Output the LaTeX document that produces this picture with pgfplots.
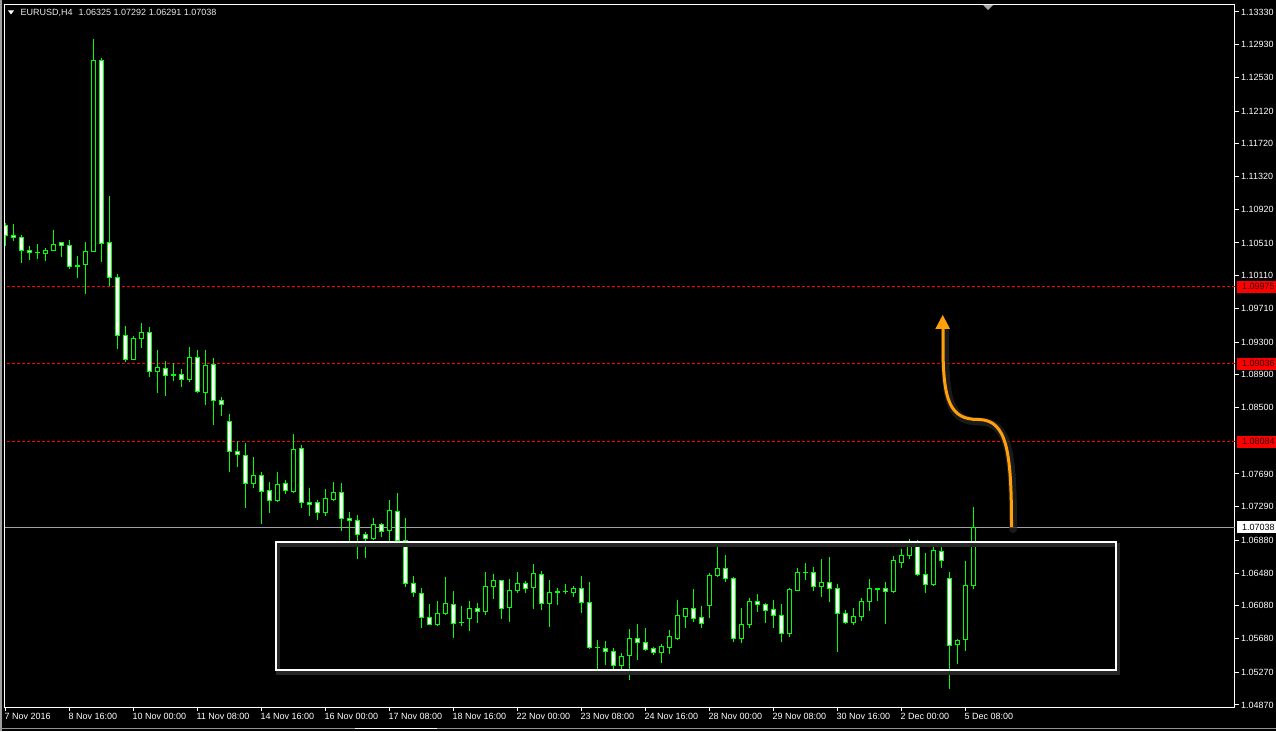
\documentclass[border=0pt]{standalone}
\usepackage{fontspec}
\setmainfont{Liberation Sans}
\usepackage{pgfplots}
\pgfplotsset{compat=1.18}
\usepackage{pgfplotstable}
\definecolor{cgreen}{RGB}{0,255,0}
\definecolor{cred}{RGB}{255,0,0}
\definecolor{corange}{RGB}{255,160,10}
\definecolor{cgrey}{RGB}{160,160,168}
\definecolor{ctext}{RGB}{235,235,235}
\definecolor{clabel}{RGB}{40,0,0}
\newcommand\mtfont{\fontsize{9}{10.5}\selectfont}

\pgfplotstableread{
i o h l c
0 1.10726 1.10752 1.10473 1.10604
1 1.10601 1.10742 1.10538 1.10575
2 1.10580 1.10608 1.10269 1.10421
3 1.10424 1.10473 1.10302 1.10391
4 1.10388 1.10498 1.10315 1.10400
5 1.10384 1.10449 1.10290 1.10424
6 1.10416 1.10669 1.10416 1.10494
7 1.10510 1.10526 1.10343 1.10477
8 1.10482 1.10547 1.10196 1.10220
9 1.10220 1.10352 1.10086 1.10238
10 1.10245 1.10522 1.09887 1.10409
11 1.10404 1.13000 1.10404 1.12740
12 1.12740 1.12768 1.10282 1.10506
13 1.10519 1.11084 1.09985 1.10086
14 1.10091 1.10128 1.09220 1.09384
15 1.09384 1.09497 1.09061 1.09090
16 1.09090 1.09375 1.09082 1.09347
17 1.09347 1.09530 1.09225 1.09420
18 1.09420 1.09481 1.08870 1.08944
19 1.08944 1.09204 1.08682 1.08992
20 1.08980 1.09070 1.08642 1.08895
21 1.08899 1.09041 1.08829 1.08892
22 1.08907 1.08972 1.08756 1.08846
23 1.08846 1.09237 1.08817 1.09115
24 1.09115 1.09204 1.08675 1.08694
25 1.08682 1.09204 1.08532 1.09017
26 1.09029 1.09102 1.08288 1.08584
27 1.08589 1.08626 1.08398 1.08536
28 1.08333 1.08422 1.07714 1.07962
29 1.07967 1.08089 1.07779 1.07925
30 1.07918 1.08065 1.07279 1.07572
31 1.07572 1.07894 1.07523 1.07674
32 1.07674 1.07711 1.07083 1.07474
33 1.07491 1.07589 1.07218 1.07369
34 1.07364 1.07711 1.07352 1.07564
35 1.07568 1.07617 1.07449 1.07486
36 1.07474 1.08178 1.07458 1.07991
37 1.08004 1.08040 1.07279 1.07340
38 1.07348 1.07519 1.07181 1.07315
39 1.07336 1.07369 1.07128 1.07218
40 1.07218 1.07507 1.07181 1.07393
41 1.07376 1.07592 1.07360 1.07466
42 1.07466 1.07580 1.06998 1.07144
43 1.07149 1.07226 1.06872 1.07125
44 1.07125 1.07189 1.06656 1.06955
45 1.06955 1.06985 1.06668 1.06905
46 1.06900 1.07156 1.06884 1.07076
47 1.07076 1.07095 1.06917 1.06991
48 1.07003 1.07373 1.06832 1.07247
49 1.07235 1.07458 1.06802 1.06876
50 1.06876 1.07153 1.06307 1.06356
51 1.06356 1.06445 1.06192 1.06241
52 1.06233 1.06298 1.05810 1.05941
53 1.05941 1.06103 1.05847 1.05855
54 1.05855 1.06139 1.05838 1.05989
55 1.05989 1.06432 1.05972 1.06112
56 1.06099 1.06262 1.05692 1.05867
57 1.05874 1.06079 1.05838 1.05877
58 1.05928 1.06139 1.05777 1.06050
59 1.06050 1.06112 1.05874 1.06014
60 1.06009 1.06494 1.05972 1.06319
61 1.06314 1.06469 1.06168 1.06393
62 1.06393 1.06397 1.05923 1.06050
63 1.06058 1.06409 1.05887 1.06270
64 1.06265 1.06494 1.06241 1.06356
65 1.06356 1.06384 1.06241 1.06295
66 1.06307 1.06591 1.06045 1.06477
67 1.06465 1.06506 1.06033 1.06112
68 1.06112 1.06397 1.05826 1.06246
69 1.06247 1.06298 1.06094 1.06252
70 1.06251 1.06347 1.06224 1.06255
71 1.06241 1.06323 1.06192 1.06298
72 1.06295 1.06445 1.05997 1.06119
73 1.06124 1.06371 1.05557 1.05569
74 1.05572 1.05664 1.05252 1.05575
75 1.05562 1.05651 1.05358 1.05520
76 1.05525 1.05569 1.05309 1.05350
77 1.05350 1.05505 1.05240 1.05468
78 1.05472 1.05798 1.05175 1.05676
79 1.05676 1.05859 1.05423 1.05630
80 1.05627 1.05814 1.05529 1.05545
81 1.05554 1.05582 1.05480 1.05511
82 1.05508 1.05615 1.05386 1.05578
83 1.05569 1.05786 1.05496 1.05700
84 1.05684 1.06152 1.05664 1.05968
85 1.05948 1.06058 1.05814 1.06042
86 1.06042 1.06286 1.05887 1.05923
87 1.05932 1.06082 1.05814 1.05862
88 1.06082 1.06485 1.05936 1.06453
89 1.06448 1.06851 1.06436 1.06538
90 1.06538 1.06701 1.06375 1.06411
91 1.06420 1.06436 1.05639 1.05679
92 1.05679 1.06058 1.05630 1.05855
93 1.05850 1.06176 1.05814 1.06139
94 1.06139 1.06225 1.06009 1.06099
95 1.06099 1.06115 1.05874 1.06024
96 1.06032 1.06152 1.05814 1.05960
97 1.05968 1.06103 1.05639 1.05737
98 1.05737 1.06304 1.05700 1.06274
99 1.06265 1.06546 1.06265 1.06487
100 1.06485 1.06607 1.06397 1.06490
101 1.06487 1.06554 1.06265 1.06314
102 1.06314 1.06652 1.06192 1.06371
103 1.06366 1.06677 1.06127 1.06290
104 1.06295 1.06347 1.05517 1.05987
105 1.05989 1.06032 1.05859 1.05874
106 1.05874 1.06058 1.05847 1.05953
107 1.05948 1.06180 1.05895 1.06139
108 1.06131 1.06409 1.06019 1.06295
109 1.06284 1.06304 1.06142 1.06289
110 1.06286 1.06371 1.05854 1.06253
111 1.06253 1.06689 1.06241 1.06628
112 1.06607 1.06774 1.06546 1.06697
113 1.06693 1.06897 1.06656 1.06836
114 1.06836 1.06884 1.06449 1.06459
115 1.06465 1.06726 1.06241 1.06345
116 1.06336 1.06811 1.06326 1.06750
117 1.06746 1.06799 1.06542 1.06632
118 1.06417 1.06494 1.05065 1.05599
119 1.05606 1.05676 1.05374 1.05660
120 1.05667 1.06628 1.05529 1.06332
121 1.06325 1.07292 1.06291 1.07038
}\candles

\pgfplotsset{
  mtaxis/.style={
    at={(5pt,24pt)}, anchor=south west, scale only axis,
    width=1230pt, height=702pt,
    xmin=-0.04, xmax=153.71, ymin=1.048454, ymax=1.134155,
  }
}

\begin{document}
\begin{tikzpicture}[x=1pt,y=1pt]
\fill[black] (0,0) rectangle (1276,731);
\draw[gray!75, line width=1.5pt] (0.75,0) -- (0.75,731);
\draw[gray!85, line width=1.2pt] (0,2.5) -- (1276,2.5);
\draw[white, line width=1.5pt] (355,2.5) -- (437,2.5);

\begin{axis}[mtaxis,
  clip mode=individual,
  axis line style={white, line width=1pt},
  xtick={0,8,...,120},
  xticklabels={7 Nov 2016, 8 Nov 16:00, 10 Nov 00:00, 11 Nov 08:00, 14 Nov 16:00, 16 Nov 00:00, 17 Nov 08:00, 18 Nov 16:00, 22 Nov 00:00, 23 Nov 08:00, 24 Nov 16:00, 28 Nov 00:00, 29 Nov 08:00, 30 Nov 16:00, 2 Dec 00:00, 5 Dec 08:00},
  ytick={1.13330,1.12930,1.12530,1.12120,1.11720,1.11320,1.10920,1.10510,1.10110,1.09710,1.09300,1.08900,1.08500,1.07690,1.07290,1.06880,1.06480,1.06080,1.05680,1.05270,1.04870},
  yticklabels={1.13330,1.12930,1.12530,1.12120,1.11720,1.11320,1.10920,1.10510,1.10110,1.09710,1.09300,1.08900,1.08500,1.07690,1.07290,1.06880,1.06480,1.06080,1.05680,1.05270,1.04870},
  scaled ticks=false,
  xtick pos=left, ytick pos=right, yticklabel pos=right,
  tick align=outside, major tick length=4pt,
  every tick/.style={white, line width=1pt},
  tick label style={text=white, font=\mtfont, inner sep=0pt},
  xticklabel style={anchor=north west, xshift=-1pt, yshift=-2.5pt},
  yticklabel style={anchor=west, xshift=2pt},
]
% horizontal levels
\addplot[cred, line width=1pt, dash pattern=on 3pt off 2pt] coordinates {(-1,1.09975) (160,1.09975)};
\addplot[cred, line width=1pt, dash pattern=on 3pt off 2pt] coordinates {(-1,1.09036) (160,1.09036)};
\addplot[cred, line width=1pt, dash pattern=on 3pt off 2pt] coordinates {(-1,1.08084) (160,1.08084)};
\addplot[cgrey, line width=1pt] coordinates {(-1,1.07038) (160,1.07038)};
% wicks
\addplot[draw=none, mark=none,
  error bars/.cd, y dir=both, y explicit, error mark=none,
  error bar style={draw=cgreen, line width=1pt, line cap=butt}]
  table[x=i, y=o, y error plus expr=\thisrow{h}-\thisrow{o}, y error minus expr=\thisrow{o}-\thisrow{l}] {\candles};
% price labels
\fill[cred] (axis cs:153.96,1.09975) ++(0pt,-6pt) rectangle ++(40pt,12pt);
\node[anchor=west, inner sep=0pt, font=\mtfont, text=clabel] at (axis cs:153.96,1.09975) [xshift=5pt] {1.09975};
\fill[cred] (axis cs:153.96,1.09036) ++(0pt,-6pt) rectangle ++(40pt,12pt);
\node[anchor=west, inner sep=0pt, font=\mtfont, text=clabel] at (axis cs:153.96,1.09036) [xshift=5pt] {1.09036};
\fill[cred] (axis cs:153.96,1.08084) ++(0pt,-6pt) rectangle ++(40pt,12pt);
\node[anchor=west, inner sep=0pt, font=\mtfont, text=clabel] at (axis cs:153.96,1.08084) [xshift=5pt] {1.08084};
\fill[white] (axis cs:153.96,1.07038) ++(0pt,-6pt) rectangle ++(40pt,12pt);
\node[anchor=west, inner sep=0pt, font=\mtfont, text=black] at (axis cs:153.96,1.07038) [xshift=5pt] {1.07038};
\end{axis}

\begin{axis}[mtaxis, hide axis, ybar stacked, bar width=4pt]
\addplot[draw=none, fill=none] table[x=i, y expr={min(\thisrow{o},\thisrow{c})}] {\candles};
\addplot[draw=cgreen, fill=black, line width=1pt] table[x=i, y expr={max(\thisrow{c}-\thisrow{o},0)}] {\candles};
\addplot[draw=cgreen, fill=white, line width=1pt] table[x=i, y expr={max(\thisrow{o}-\thisrow{c},0)}] {\candles};
\end{axis}

% box annotation
\draw[white!15!black, line width=4pt] (278,186) rectangle (1118,58.5);
\draw[white, line width=2pt] (276,189) rectangle (1116,61.5);

% arrow annotation
\draw[white!15!black, line width=8pt, line cap=round, opacity=0.7]
  (1013,202) .. controls (1013,280) and (1008.5,309.5) .. (979,309.5)
  .. controls (951,309.5) and (945,328) .. (945,385) -- (945,400);
\draw[corange, line width=3pt]
  (1011.5,204) .. controls (1011.5,280) and (1007,311.5) .. (978,311.5)
  .. controls (950,311.5) and (943,330) .. (943,385) -- (943,403);
\fill[corange] (935.3,402) -- (950.1,402) -- (942.7,416) -- cycle;

% header
\fill[white] (8,720.5) -- (14,720.5) -- (11,716.5) -- cycle;
\node[anchor=west, inner sep=0pt, font=\mtfont, text=ctext] at (20.5,718) {EURUSD,H4\hspace{6pt}1.06325 1.07292 1.06291 1.07038};
\fill[gray!70] (983,726) -- (993,726) -- (988,721) -- cycle;

\pgfresetboundingbox
\path[use as bounding box] (0,0) rectangle (1276,731);
\end{tikzpicture}
\end{document}
